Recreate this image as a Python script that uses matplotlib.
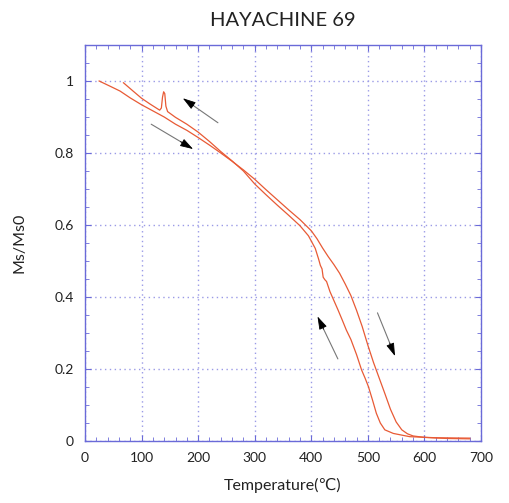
import matplotlib
matplotlib.use('Agg')
import matplotlib.pyplot as plt
from matplotlib.ticker import MultipleLocator

plt.rcParams['font.family'] = ['Lato', 'DejaVu Sans']

# heating run (room temp -> 680)
heat_T = [25, 45, 62, 80, 100, 120, 140, 160, 180, 200, 220, 240, 260, 280,
          300, 320, 340, 360, 380, 400, 410, 420, 430, 440, 450, 460, 470, 480,
          490, 500, 510, 520, 530, 540, 550, 560, 570, 580, 600, 640, 680]
heat_M = [1.000, 0.985, 0.972, 0.953, 0.934, 0.917, 0.900, 0.880, 0.863, 0.843,
          0.822, 0.800, 0.777, 0.753, 0.727, 0.698, 0.670, 0.642, 0.615, 0.584,
          0.562, 0.536, 0.512, 0.490, 0.466, 0.436, 0.404, 0.363, 0.318, 0.266,
          0.218, 0.175, 0.132, 0.088, 0.053, 0.031, 0.020, 0.014, 0.010, 0.007,
          0.006]

# cooling run (680 -> ~70)
cool_T = [68, 85, 100, 115, 132, 135, 137, 139, 141, 143, 146, 160, 180, 200,
          220, 240, 260, 280, 300, 320, 340, 360, 380, 395, 407, 413, 416, 419,
          421, 424, 427, 433, 440, 447, 455, 462, 470, 480, 489, 495, 501, 508,
          515, 522, 530, 545, 574, 620, 680]
cool_M = [0.995, 0.972, 0.952, 0.936, 0.919, 0.925, 0.955, 0.970, 0.965, 0.930,
          0.915, 0.899, 0.880, 0.858, 0.832, 0.804, 0.778, 0.750, 0.714, 0.684,
          0.655, 0.627, 0.598, 0.570, 0.535, 0.505, 0.488, 0.478, 0.455, 0.448,
          0.443, 0.415, 0.390, 0.365, 0.335, 0.308, 0.282, 0.240, 0.197, 0.175,
          0.151, 0.115, 0.077, 0.050, 0.031, 0.021, 0.012, 0.009, 0.008]

# arrows: (tail, tip) in data coords
arrows = [((235, 0.884), (173, 0.952)),
          ((117, 0.880), (191, 0.811)),
          ((517, 0.356), (548, 0.236)),
          ((447, 0.228), (411, 0.346))]

fig = plt.figure(figsize=(5.1, 5.03), dpi=100)
ax = fig.add_axes([85 / 510, 62 / 503, 396 / 510, 396 / 503])

line_c = '#e85a35'
ax.plot(heat_T, heat_M, color=line_c, lw=0.9)
ax.plot(cool_T, cool_M, color=line_c, lw=0.9)

for tail, tip in arrows:
    ax.annotate('', xy=tip, xytext=tail,
                arrowprops=dict(arrowstyle='-', color='#777777', lw=0.8,
                                shrinkA=0, shrinkB=2))
    # short black head at the tip
    dx = (tip[0] - tail[0]) * 0.3
    dy = (tip[1] - tail[1]) * 0.3
    ax.annotate('', xy=tip, xytext=(tip[0] - dx, tip[1] - dy),
                arrowprops=dict(arrowstyle='-|>,head_length=0.8,head_width=0.25',
                                color='black', lw=0.6, shrinkA=0, shrinkB=0))

ax.set_xlim(0, 700)
ax.set_ylim(0, 1.1)
ax.xaxis.set_major_locator(MultipleLocator(100))
ax.xaxis.set_minor_locator(MultipleLocator(20))
ax.yaxis.set_minor_locator(MultipleLocator(0.05))
ax.set_yticks([0, 0.2, 0.4, 0.6, 0.8, 1.0])
ax.set_yticklabels(['0', '0.2', '0.4', '0.6', '0.8', '1'])

spine_c = '#6a6ad8'
for s in ax.spines.values():
    s.set_color(spine_c)
    s.set_linewidth(1.0)
ax.tick_params(which='both', direction='in', top=True, right=True,
               color=spine_c, labelsize=10, labelcolor='#222222')
ax.tick_params(which='major', length=4, pad=8)
ax.tick_params(which='minor', length=3)
ax.grid(True, which='major', color='#9a9ae6', linestyle=(0, (1, 2.5)), lw=1.0)

ax.set_xlabel('Temperature(℃)', fontsize=11.5, labelpad=10, color='#222222')
ax.set_ylabel('Ms/Ms0', fontsize=11.5, labelpad=20, color='#222222')
ax.set_title('HAYACHINE 69', fontsize=14.5, pad=14, color='#222222')

fig.savefig('out.png', dpi=100)
